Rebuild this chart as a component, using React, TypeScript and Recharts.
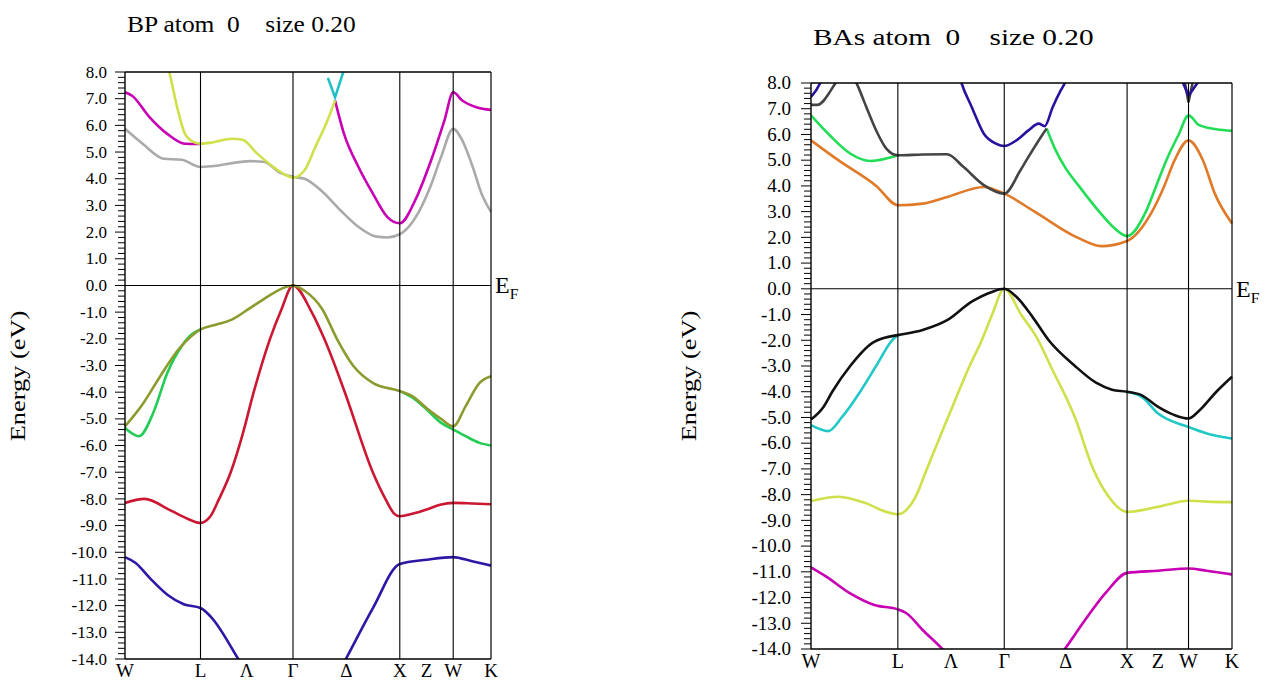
import React from "react";
import { LineChart, Line, XAxis, YAxis, ReferenceLine } from "recharts";

type Pt = [number, number];

// path W–L–Γ–X–W–K, cumulative |k| in units of 2π/a
const symmetryK = [0.707, 1.573, 2.573, 3.073];
const kEnd = 3.427;
const pathTicks = [0, 0.707, 1.14, 1.573, 2.073, 2.573, 2.823, 3.073, 3.427];
const pathLabels = ["W", "L", "Λ", "Γ", "Δ", "X", "Z", "W", "K"];

// energy axis, minor tick every 0.2 eV
const energyTicks: number[] = [];
for (let i = 0; i <= 110; i++) energyTicks.push(Math.round((-14 + i * 0.2) * 10) / 10);

// ---- BP bands [k, E(eV)] ----
const bpBlue: Pt[] = [[0, -10.18], [0.1, -10.4], [0.231, -10.96], [0.4, -11.6], [0.55, -11.95], [0.707, -12.09], [0.8, -12.4], [1.061, -14.0], [1.3, -15.6], [1.573, -16.3], [1.85, -15.6], [2.068, -14.0], [2.32, -12.1], [2.573, -10.44], [2.825, -10.28], [3.073, -10.18], [3.25, -10.34], [3.427, -10.5]];
const bpRed: Pt[] = [[0, -8.15], [0.182, -8.0], [0.43, -8.44], [0.59, -8.75], [0.707, -8.9], [0.8, -8.65], [0.881, -8.0], [0.99, -7.0], [1.1, -5.6], [1.205, -4.0], [1.358, -2.0], [1.46, -0.95], [1.573, 0], [1.748, -1.0], [1.866, -2.0], [2.058, -4.0], [2.32, -7.0], [2.438, -8.0], [2.52, -8.55], [2.573, -8.65], [2.7, -8.55], [2.825, -8.4], [2.95, -8.22], [3.073, -8.15], [3.25, -8.17], [3.427, -8.2]];
const bpGreenWL: Pt[] = [[0, -5.34], [0.132, -5.65], [0.264, -4.78], [0.396, -3.28], [0.53, -2.28], [0.62, -1.85], [0.707, -1.65]];
const bpGreenXK: Pt[] = [[2.573, -3.96], [2.69, -4.2], [2.825, -4.65], [2.96, -5.15], [3.073, -5.4], [3.19, -5.65], [3.32, -5.9], [3.427, -6.0]];
const bpOlive: Pt[] = [[0, -5.28], [0.165, -4.45], [0.33, -3.4], [0.5, -2.4], [0.62, -1.9], [0.707, -1.65], [0.85, -1.47], [1.0, -1.28], [1.17, -0.85], [1.34, -0.41], [1.478, -0.1], [1.573, 0], [1.681, -0.2], [1.849, -0.9], [1.984, -2.0], [2.135, -3.0], [2.32, -3.65], [2.573, -3.96], [2.69, -4.15], [2.825, -4.6], [2.96, -5.0], [3.073, -5.28], [3.19, -4.52], [3.32, -3.65], [3.427, -3.4]];
const bpGray: Pt[] = [[0, 5.87], [0.165, 5.31], [0.363, 4.75], [0.53, 4.71], [0.707, 4.44], [0.83, 4.48], [1.17, 4.66], [1.307, 4.63], [1.44, 4.25], [1.573, 4.07], [1.681, 4.0], [1.849, 3.51], [2.017, 2.82], [2.185, 2.2], [2.354, 1.83], [2.455, 1.8], [2.573, 1.92], [2.724, 2.57], [2.858, 3.69], [2.959, 4.81], [3.073, 5.87], [3.158, 5.44], [3.256, 4.44], [3.338, 3.45], [3.427, 2.76]];
const bpMagentaWL: Pt[] = [[0, 7.24], [0.066, 7.11], [0.231, 6.3], [0.396, 5.68], [0.562, 5.31], [0.707, 5.3]];
const bpMagentaDK: Pt[] = [[1.967, 6.93], [2.051, 5.68], [2.186, 4.44], [2.32, 3.45], [2.455, 2.57], [2.573, 2.33], [2.724, 3.25], [2.858, 4.6], [2.992, 6.2], [3.073, 7.24], [3.158, 6.93], [3.289, 6.68], [3.427, 6.58]];
const bpYellow: Pt[] = [[0.38, 8.6], [0.423, 7.86], [0.496, 6.55], [0.562, 5.68], [0.645, 5.37], [0.707, 5.31], [0.83, 5.37], [1.0, 5.5], [1.1, 5.46], [1.238, 4.94], [1.41, 4.38], [1.51, 4.13], [1.573, 4.04], [1.681, 4.32], [1.782, 5.19], [1.883, 6.06], [1.967, 6.93]];
const bpCyan: Pt[] = [[1.9, 7.78], [1.967, 7.05], [2.06, 8.2]];

// ---- BAs bands [k, E(eV)] ----
const basMagenta: Pt[] = [[0, -10.83], [0.124, -11.19], [0.319, -11.84], [0.515, -12.29], [0.707, -12.46], [0.777, -12.61], [0.909, -13.26], [1.069, -14.0], [1.3, -15.3], [1.573, -15.7], [1.85, -15.3], [2.066, -14.0], [2.231, -12.87], [2.395, -11.84], [2.573, -11.04], [2.826, -10.96], [3.073, -10.87], [3.222, -10.96], [3.427, -11.1]];
const basYellow: Pt[] = [[0, -8.25], [0.222, -8.08], [0.45, -8.34], [0.613, -8.67], [0.707, -8.76], [0.86, -8.0], [0.943, -7.0], [1.115, -5.0], [1.291, -3.0], [1.39, -2.0], [1.475, -1.0], [1.573, 0], [1.71, -1.0], [1.85, -2.0], [1.95, -3.0], [2.149, -5.0], [2.297, -7.0], [2.412, -8.0], [2.573, -8.67], [2.826, -8.47], [3.073, -8.24], [3.222, -8.27], [3.427, -8.29]];
const basCyanWL: Pt[] = [[0, -5.3], [0.14, -5.53], [0.25, -5.0], [0.4, -4.0], [0.53, -3.0], [0.66, -2.0], [0.707, -1.8]];
const basCyanXK: Pt[] = [[2.573, -4.0], [2.693, -4.2], [2.826, -4.85], [3.073, -5.37], [3.222, -5.62], [3.427, -5.82]];
const basBlack: Pt[] = [[0, -5.08], [0.1, -4.6], [0.173, -4.0], [0.319, -3.0], [0.5, -2.1], [0.6, -1.9], [0.707, -1.8], [0.909, -1.6], [1.108, -1.22], [1.308, -0.5], [1.473, -0.12], [1.573, 0], [1.672, -0.31], [1.803, -1.09], [1.935, -2.0], [2.149, -3.0], [2.32, -3.65], [2.45, -3.92], [2.573, -4.0], [2.693, -4.14], [2.826, -4.59], [2.96, -4.91], [3.073, -5.04], [3.157, -4.75], [3.3, -4.0], [3.427, -3.42]];
const basOrange: Pt[] = [[0, 5.77], [0.222, 5.0], [0.531, 4.0], [0.707, 3.25], [0.909, 3.31], [1.108, 3.57], [1.407, 3.96], [1.573, 3.7], [1.82, 3.0], [2.165, 2.0], [2.362, 1.66], [2.573, 1.86], [2.776, 3.0], [2.876, 4.0], [2.96, 5.0], [3.073, 5.77], [3.19, 5.0], [3.287, 3.7], [3.427, 2.54]];
const basGreenWL: Pt[] = [[0, 6.74], [0.156, 5.95], [0.319, 5.26], [0.482, 4.97], [0.6, 5.05], [0.707, 5.19]];
const basGreenDK: Pt[] = [[1.918, 6.23], [1.99, 5.4], [2.066, 4.74], [2.18, 4.0], [2.346, 3.0], [2.46, 2.4], [2.573, 2.05], [2.726, 3.0], [2.81, 4.0], [2.893, 5.0], [2.993, 6.0], [3.073, 6.74], [3.16, 6.36], [3.3, 6.2], [3.427, 6.14]];
const basDark: Pt[] = [[0, 7.15], [0.05, 7.15], [0.2, 8.0], [0.29, 8.7], [0.384, 7.85], [0.45, 7.07], [0.53, 6.16], [0.613, 5.45], [0.707, 5.19], [0.909, 5.22], [1.108, 5.23], [1.24, 4.74], [1.407, 4.03], [1.573, 3.7], [1.705, 4.61], [1.754, 5.0], [1.885, 6.0], [1.918, 6.23]];
const basDarkW: Pt[] = [[3.04, 8.1], [3.073, 7.25], [3.11, 8.1]];
const basPurpleW: Pt[] = [[0, 7.46], [0.075, 8.0], [0.1, 8.3]];
const basPurple: Pt[] = [[1.2, 8.4], [1.225, 8.0], [1.308, 7.07], [1.407, 6.03], [1.507, 5.64], [1.573, 5.55], [1.672, 5.77], [1.77, 6.16], [1.853, 6.42], [1.902, 6.32], [1.968, 7.07], [2.034, 7.72], [2.066, 8.0], [2.09, 8.3]];
const basPurpleX: Pt[] = [[3.02, 8.1], [3.073, 7.5], [3.16, 8.1]];

interface Curve { pts: Pt[]; color: string; linear?: boolean }

const bpCurves: Curve[] = [
  { pts: bpBlue, color: "#2e16a6" },
  { pts: bpRed, color: "#cc1733" },
  { pts: bpGreenWL, color: "#22cc55" },
  { pts: bpGreenXK, color: "#22cc55" },
  { pts: bpOlive, color: "#8c9a2e" },
  { pts: bpGray, color: "#aaaaaa" },
  { pts: bpMagentaWL, color: "#c800b4" },
  { pts: bpMagentaDK, color: "#c800b4" },
  { pts: bpYellow, color: "#cfe04a" },
  { pts: bpCyan, color: "#22bfc4", linear: true },
];

const basCurves: Curve[] = [
  { pts: basMagenta, color: "#c800b4" },
  { pts: basYellow, color: "#cfe04a" },
  { pts: basCyanWL, color: "#22c8c8" },
  { pts: basCyanXK, color: "#22c8c8" },
  { pts: basBlack, color: "#111111" },
  { pts: basOrange, color: "#e07a28" },
  { pts: basGreenWL, color: "#22dd55" },
  { pts: basGreenDK, color: "#22dd55" },
  { pts: basDark, color: "#444444" },
  { pts: basDarkW, color: "#444444", linear: true },
  { pts: basPurpleW, color: "#2a12a0" },
  { pts: basPurple, color: "#2a12a0" },
  { pts: basPurpleX, color: "#2a12a0", linear: true },
];

const serif = '"Liberation Serif", "Times New Roman", serif';

interface PanelProps {
  curves: Curve[];
  left: number;
  width: number;
  margin: { top: number; right: number; bottom: number; left: number };
  tickFont: number;
  tickGap: number;
  labelFont: number;
  labelDy: number;
  efSize: number;
}

const BandPanel = (p: PanelProps) => {
  const yTick = ({ x, y, payload }: any) => {
    const v = payload.value;
    const major = Math.abs(v - Math.round(v)) < 1e-6;
    return (
      <g>
        <line x1={x - (major ? 10 : 7)} x2={x} y1={y} y2={y} stroke="#000" strokeWidth={1} />
        {major && (
          <text x={x - p.tickGap} y={y} dy={p.tickFont * 0.33} textAnchor="end" fontSize={p.tickFont}
            style={{ fontFamily: serif }} fill="#000">
            {v.toFixed(1)}
          </text>
        )}
      </g>
    );
  };

  const xTick = ({ x, y, payload }: any) => {
    const i = pathTicks.indexOf(payload.value);
    return (
      <text x={x} y={y + p.labelDy} textAnchor="middle" fontSize={p.labelFont} style={{ fontFamily: serif }} fill="#000">
        {pathLabels[i]}
      </text>
    );
  };

  const efLabel = (props: any) => {
    const vb = props.viewBox;
    return (
      <text x={vb.x + vb.width + 4} y={vb.y + 8} fontSize={p.efSize} style={{ fontFamily: serif }} fill="#000">
        E<tspan dy={6} fontSize={p.efSize * 0.65}>F</tspan>
      </text>
    );
  };

  return (
    <div style={{ position: "absolute", left: p.left, top: 0 }}>
      <LineChart width={p.width} height={680} margin={p.margin}>
        <XAxis dataKey="k" type="number" domain={[0, kEnd]} ticks={pathTicks} interval={0}
          height={20} tickSize={0} tickMargin={0} axisLine={false} tick={xTick} />
        <YAxis type="number" domain={[-14, 8]} ticks={energyTicks} interval={0} allowDataOverflow
          width={60} tickSize={0} tickMargin={0} axisLine={false} tick={yTick} />
        {p.curves.map((c, i) => (
          <Line key={i} data={c.pts.map(([k, e]) => ({ k, e }))} dataKey="e"
            type={c.linear ? "linear" : "monotone"} stroke={c.color} strokeWidth={2.6}
            dot={false} activeDot={false} isAnimationActive={false} />
        ))}
        {symmetryK.map((k) => (
          <ReferenceLine key={k} x={k} stroke="#000" strokeWidth={1.1} />
        ))}
        <ReferenceLine y={0} stroke="#000" strokeWidth={1.1} label={efLabel} />
        <ReferenceLine x={0} stroke="#000" strokeWidth={1.4} />
        <ReferenceLine x={kEnd} stroke="#000" strokeWidth={1.2} />
        <ReferenceLine y={8} stroke="#000" strokeWidth={1.4} />
        <ReferenceLine y={-14} stroke="#000" strokeWidth={1.4} />
      </LineChart>
    </div>
  );
};

const textBase: React.CSSProperties = {
  position: "absolute",
  fontFamily: serif,
  color: "#000",
  whiteSpace: "pre",
  lineHeight: "24px",
  transformOrigin: "left center",
};

export default function App() {
  return (
    <div style={{ position: "absolute", left: 0, top: 0, width: 1274, height: 680, background: "#fff", overflow: "hidden", fontFamily: serif }}>
      <div style={{ ...textBase, left: 127, top: 12, fontSize: 24, transform: "scaleX(1.06)" }}>{"BP atom  0    size 0.20"}</div>
      <div style={{ ...textBase, left: 813, top: 25, fontSize: 24, transform: "scaleX(1.22)" }}>{"BAs atom  0    size 0.20"}</div>
      <div style={{ ...textBase, left: 18, top: 376, fontSize: 22, transformOrigin: "center", transform: "translate(-50%, -50%) rotate(-90deg) scaleX(1.2)" }}>Energy (eV)</div>
      <div style={{ ...textBase, left: 689, top: 376, fontSize: 22, transformOrigin: "center", transform: "translate(-50%, -50%) rotate(-90deg) scaleX(1.2)" }}>Energy (eV)</div>

      <BandPanel curves={bpCurves} left={0} width={560}
        margin={{ top: 72, right: 69, bottom: 1, left: 65 }}
        tickFont={17} tickGap={18} labelFont={19} labelDy={18} efSize={24} />
      <BandPanel curves={basCurves} left={640} width={634}
        margin={{ top: 83, right: 42, bottom: 11, left: 111 }}
        tickFont={19} tickGap={20} labelFont={20} labelDy={19} efSize={24} />
    </div>
  );
}
